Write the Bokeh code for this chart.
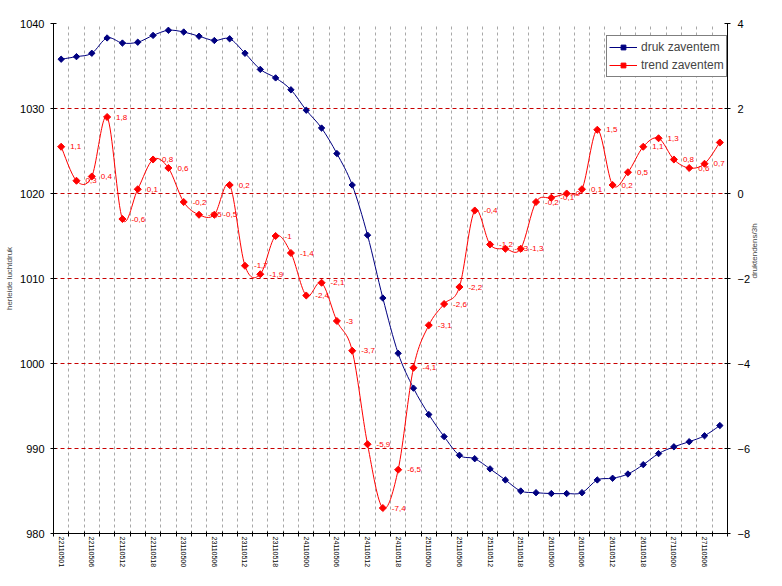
import math
from bokeh.plotting import figure
from bokeh.models import Range1d, LinearAxis, FixedTicker, Legend, LegendItem, ColumnDataSource
from bokeh.embed import file_html
from bokeh.resources import INLINE
from bokeh.core.properties import value

# ---- data ----
tick_labels = ["22110501", "22110506", "22110512", "22110518",
               "23110500", "23110506", "23110512", "23110518",
               "24110500", "24110506", "24110512", "24110518",
               "25110500", "25110506", "25110512", "25110518",
               "26110500", "26110506", "26110512", "26110518",
               "27110500", "27110506"]

pressure = [1035.8, 1036.1, 1036.5, 1038.3, 1037.7, 1037.8, 1038.6, 1039.2,
            1039.0, 1038.5, 1038.0, 1038.2, 1036.5, 1034.6, 1033.6, 1032.2,
            1029.8, 1027.7, 1024.7, 1021.0, 1015.1, 1007.7, 1001.2, 997.1,
            994.0, 991.4, 989.2, 988.8, 987.6, 986.3, 985.0, 984.8,
            984.7, 984.7, 984.8, 986.3, 986.5, 987.0, 988.1, 989.4,
            990.2, 990.8, 991.5, 992.7]

trend = [1.1, 0.3, 0.4, 1.8, -0.6, 0.1, 0.8, 0.6,
         -0.2, -0.5, -0.5, 0.2, -1.7, -1.9, -1.0, -1.4,
         -2.4, -2.1, -3.0, -3.7, -5.9, -7.4, -6.5, -4.1,
         -3.1, -2.6, -2.2, -0.4, -1.2, -1.3, -1.3, -0.2,
         -0.1, 0.0, 0.1, 1.5, 0.2, 0.5, 1.1, 1.3,
         0.8, 0.6, 0.7, 1.2]

left_ticks = [980, 990, 1000, 1010, 1020, 1030, 1040]
right_ticks = [-8, -6, -4, -2, 0, 2, 4]

series_names = ["druk zaventem", "trend zaventem"]
left_title = "herleide luchtdruk"
right_title = "druktendens/3h"

FONT = "Liberation Sans"
BLUE = "#000080"
RED = "#ff0000"

n = len(pressure)
idx = list(range(n))


def fmt(v):
    return str(int(v)) if v == int(v) else f"{v:.1f}".replace(".", ",")


def smooth(xs, ys):
    d = dict(x0=[], y0=[], x1=[], y1=[], cx0=[], cy0=[], cx1=[], cy1=[])
    m = len(xs)
    for i in range(m - 1):
        a = i - 1 if i > 0 else i
        b = i + 2 if i + 2 < m else i + 1
        d["x0"].append(xs[i]); d["y0"].append(ys[i])
        d["x1"].append(xs[i + 1]); d["y1"].append(ys[i + 1])
        d["cx0"].append(xs[i] + (xs[i + 1] - xs[a]) / 6.0)
        d["cy0"].append(ys[i] + (ys[i + 1] - ys[a]) / 6.0)
        d["cx1"].append(xs[i + 1] - (xs[b] - xs[i]) / 6.0)
        d["cy1"].append(ys[i + 1] - (ys[b] - ys[i]) / 6.0)
    return d


p = figure(width=766, height=570, output_backend="svg", toolbar_location=None,
           x_range=Range1d(-0.5, n - 0.5), y_range=Range1d(left_ticks[0], left_ticks[-1]),
           min_border_left=53, min_border_right=39, min_border_top=23, min_border_bottom=31)
p.extra_y_ranges = {"trend": Range1d(right_ticks[0], right_ticks[-1])}
p.outline_line_color = None
p.background_fill_color = "white"
p.border_fill_color = "white"

# x axis
xa = p.xaxis[0]
xa.ticker = FixedTicker(ticks=list(range(0, n, 2)), minor_ticks=[i - 0.5 for i in range(n + 1)])
xa.major_label_overrides = {i: lab for i, lab in zip(range(0, n, 2), tick_labels)}
xa.major_label_orientation = "vertical"
xa.major_tick_in = 0
xa.major_tick_out = 0
xa.minor_tick_in = 2
xa.minor_tick_out = 3
xa.minor_tick_line_color = "black"
xa.major_label_standoff = 0
xa.major_label_text_font = FONT
xa.major_label_text_font_size = "7px"
xa.major_label_text_color = "black"
xa.axis_line_color = "black"

# left axis
ya = p.yaxis[0]
ya.ticker = FixedTicker(ticks=left_ticks)
ya.major_tick_in = 3
ya.major_tick_out = 3
ya.minor_tick_in = 0
ya.minor_tick_out = 0
ya.major_label_standoff = 6
ya.major_label_text_font = FONT
ya.major_label_text_font_size = "11px"
ya.major_label_text_color = "black"
ya.axis_label = left_title
ya.axis_label_text_font = FONT
ya.axis_label_text_font_size = "8px"
ya.axis_label_text_font_style = "normal"
ya.axis_label_standoff = 3
ya.axis_line_color = "black"

# right axis
ra = LinearAxis(y_range_name="trend", ticker=FixedTicker(ticks=right_ticks))
ra.major_tick_in = 3
ra.major_tick_out = 3
ra.minor_tick_in = 0
ra.minor_tick_out = 0
ra.major_label_standoff = 7
ra.major_label_text_font = FONT
ra.major_label_text_font_size = "11px"
ra.major_label_text_color = "black"
ra.axis_label = right_title
ra.axis_label_text_font = FONT
ra.axis_label_text_font_size = "8px"
ra.axis_label_text_font_style = "normal"
ra.axis_label_standoff = 1
ra.axis_label_orientation = math.pi / 2
ra.axis_line_color = "black"
p.add_layout(ra, "right")

# grids
p.xgrid.ticker = FixedTicker(ticks=[i + 0.5 for i in range(n - 1)])
p.xgrid.grid_line_color = "#a8a8a8"
p.xgrid.grid_line_dash = "3 3"
p.ygrid.ticker = FixedTicker(ticks=left_ticks)
p.ygrid.grid_line_color = "#c80000"
p.ygrid.grid_line_dash = "4 3"

# pressure series
p.bezier(x0="x0", y0="y0", x1="x1", y1="y1", cx0="cx0", cy0="cy0", cx1="cx1", cy1="cy1",
         source=ColumnDataSource(smooth(idx, pressure)), line_color=BLUE, line_width=1)
sb = p.scatter(idx, pressure, marker="square", angle=math.pi / 4, size=4.5,
               fill_color=BLUE, line_color=BLUE)

# trend series
p.bezier(x0="x0", y0="y0", x1="x1", y1="y1", cx0="cx0", cy0="cy0", cx1="cx1", cy1="cy1",
         source=ColumnDataSource(smooth(idx, trend)), line_color=RED, line_width=1,
         y_range_name="trend")
sr = p.scatter(idx, trend, marker="square", angle=math.pi / 4, size=5,
               fill_color=RED, line_color=RED, y_range_name="trend")
p.text(x=idx, y=trend, text=[fmt(v) for v in trend], y_range_name="trend",
       x_offset=9, text_baseline="middle", text_align="left",
       text_font=value(FONT), text_font_size="8px", text_color=RED)

# legend
lb = p.line([0], [float("nan")], line_color=BLUE, line_width=1)
lr = p.line([0], [float("nan")], line_color=RED, line_width=1, y_range_name="trend")
legend = Legend(items=[LegendItem(label=series_names[0], renderers=[lb, sb]),
                       LegendItem(label=series_names[1], renderers=[lr, sr])],
                location=(553, 456))
legend.border_line_color = "black"
legend.border_line_width = 1
legend.background_fill_color = "white"
legend.background_fill_alpha = 1
legend.padding = 2
legend.spacing = 0
legend.margin = 0
legend.glyph_width = 28
legend.glyph_height = 12
legend.label_height = 18
legend.label_standoff = 4
legend.label_text_font = FONT
legend.label_text_font_size = "12px"
p.add_layout(legend)

open("out.html", "w").write(file_html(p, INLINE))
